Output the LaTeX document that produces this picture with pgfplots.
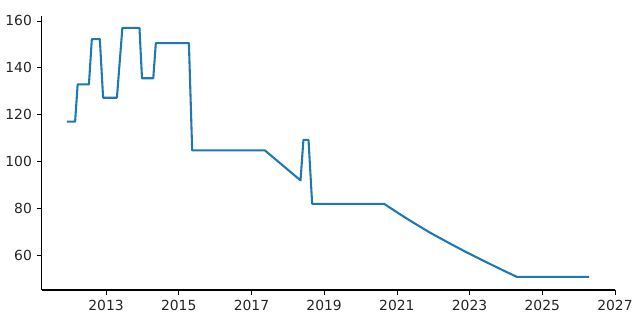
\documentclass[border=0pt]{standalone}
\usepackage{fontspec}
\setmainfont{DejaVu Sans}
\usepackage{pgfplots}
\pgfplotsset{compat=1.18}
\definecolor{tabblue}{HTML}{1F77B4}
\begin{document}
\begin{tikzpicture}
\begin{axis}[
  scale only axis,
  width=412.8pt, height=197.3pt,
  xmin=2011.23, xmax=2027.0,
  ymin=45.1, ymax=162.1,
  axis x line*=bottom, axis y line*=left,
  axis line style={line width=0.8pt, -},
  xtick={2013,2015,2017,2019,2021,2023,2025,2027},
  ytick={60,80,100,120,140,160},
  xticklabel style={/pgf/number format/1000 sep={}},
  /pgf/number format/assume math mode=true,
  tick style={line width=0.8pt, black},
  tick align=outside, major tick length=3.5pt,
  tick label style={font=\fontsize{10}{12}\selectfont, text=black!85},
  every tick/.style={black},
  clip=false,
]
\addplot[color=tabblue, line width=1.5pt, line join=round] coordinates {
(2011.92,117.0)
(2012.15,117.0)
(2012.22,132.9)
(2012.53,132.9)
(2012.61,152.2)
(2012.83,152.2)
(2012.92,127.2)
(2013.30,127.2)
(2013.45,157.0)
(2013.92,157.0)
(2013.99,135.5)
(2014.30,135.5)
(2014.37,150.5)
(2015.28,150.5)
(2015.37,104.7)
(2017.37,104.7)
(2018.35,91.9)
(2018.43,109.2)
(2018.57,109.2)
(2018.67,81.9)
(2020.65,81.9)
(2021.05,77.8)
(2021.45,73.9)
(2021.90,69.7)
(2022.37,65.7)
(2022.83,61.9)
(2023.29,58.3)
(2023.80,54.4)
(2024.30,50.7)
(2026.29,50.7)
};
\end{axis}
\useasboundingbox (-30.0pt,-21.6pt) rectangle (430.8pt,208.8pt);
\end{tikzpicture}
\end{document}
